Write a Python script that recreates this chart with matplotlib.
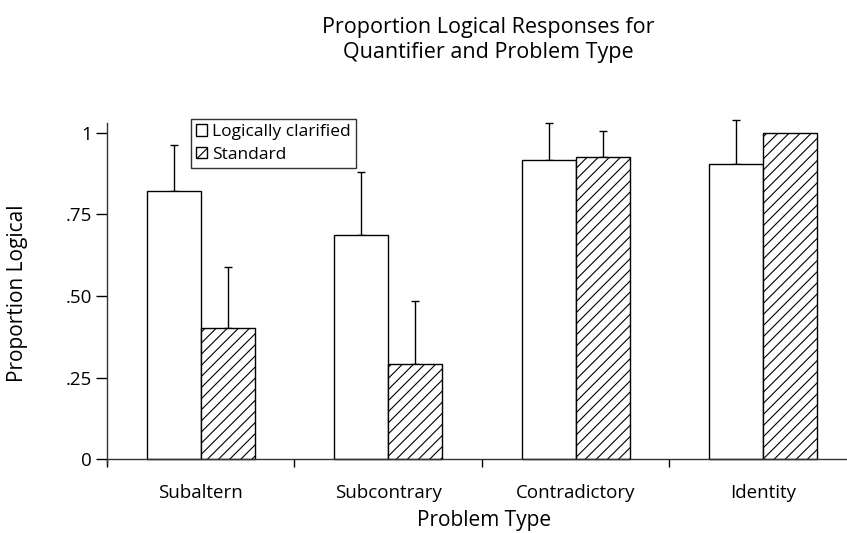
import matplotlib
matplotlib.use("Agg")
import matplotlib.pyplot as plt
import numpy as np

plt.rcParams['font.family'] = ['Open Sans', 'DejaVu Sans']
plt.rcParams['hatch.linewidth'] = 0.8

categories = ['Subaltern', 'Subcontrary', 'Contradictory', 'Identity']
clarified = [0.823, 0.688, 0.917, 0.905]
clarified_err = [0.140, 0.192, 0.113, 0.134]
standard = [0.403, 0.292, 0.926, 1.0]
standard_err = [0.186, 0.193, 0.081, 0.0]
yticks = [0, 0.25, 0.50, 0.75, 1]
ytick_labels = ['0', '.25', '.50', '.75', '1']

fig = plt.figure(figsize=(8.47, 5.33), dpi=100)
ax = fig.add_axes([107 / 847, 70 / 533, 740 / 847, 340 / 533])

x = np.arange(len(categories))
w = 0.288
ax.bar(x - w / 2, clarified, w, color='white', edgecolor='black', linewidth=1.0,
       label='Logically clarified', zorder=2)
ax.bar(x + w / 2, standard, w, color='white', edgecolor='black', linewidth=1.0,
       hatch='///', label='Standard', zorder=2)

# upper error bars only
eb = ax.errorbar(x - w / 2, clarified, yerr=[np.zeros(4), clarified_err], fmt='none',
                 ecolor='black', elinewidth=1.0, capsize=3, capthick=1.0, zorder=1)
se = np.array(standard_err)
mask = se > 0
eb2 = ax.errorbar((x + w / 2)[mask], np.array(standard)[mask],
                  yerr=[np.zeros(mask.sum()), se[mask]], fmt='none',
                  ecolor='black', elinewidth=1.0, capsize=3, capthick=1.0, zorder=1)
for e in (eb, eb2):
    for art in e.lines[1] + e.lines[2]:
        art.set_clip_on(False)

ax.set_xlim(-0.5, 3.447)
ax.set_ylim(-0.012, 1.03)
ax.spines['top'].set_visible(False)
ax.spines['right'].set_visible(False)
ax.spines['bottom'].set_position(('data', 0))
for s in ('left', 'bottom'):
    ax.spines[s].set_linewidth(1.0)
    ax.spines[s].set_color('#333333')

ax.set_yticks(yticks)
ax.set_yticklabels(ytick_labels)
ax.set_xticks(x - 0.5)
ax.set_xticklabels([])
ax.set_xticks(x, minor=True)
ax.set_xticklabels(categories, minor=True)
ax.tick_params(axis='x', which='major', direction='out', length=6, width=1.0)
ax.tick_params(axis='x', which='minor', length=0, pad=18, labelsize=13.5)
ax.tick_params(axis='y', direction='out', length=8, width=1.0, labelsize=13.5, pad=3)

ax.set_xlabel('Problem Type', fontsize=15, va='center')
ax.xaxis.set_label_coords(0.509, -0.17)
ax.set_ylabel('Proportion Logical', fontsize=15, va='center')
ax.yaxis.set_label_coords(-0.1216, 0.5)

fig.text(0.576, 1 - 40 / 533, 'Proportion Logical Responses for\nQuantifier and Problem Type',
         ha='center', va='center', fontsize=15.5, linespacing=1.2)

leg = ax.legend(loc='upper left', bbox_to_anchor=(84 / 740, 1.012), frameon=True,
                fancybox=False, edgecolor='black', fontsize=12.5,
                handlelength=0.6, handleheight=0.6, handletextpad=0.3,
                borderpad=0.3, labelspacing=0.4, borderaxespad=0)
leg.get_frame().set_linewidth(1.0)

fig.savefig('out.png', dpi=100)
